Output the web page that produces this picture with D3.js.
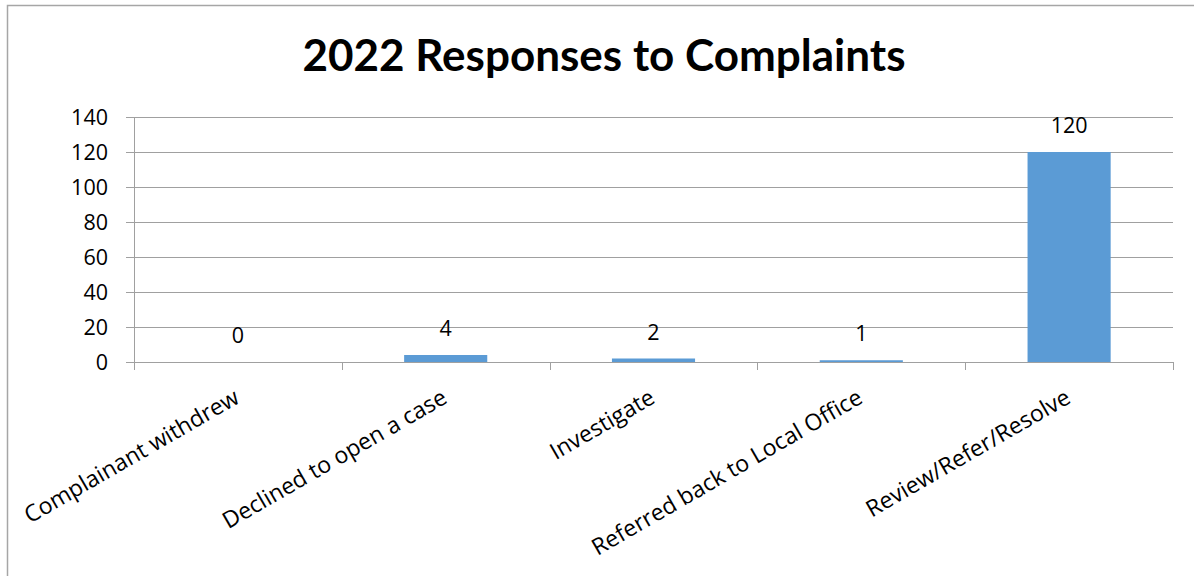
<!DOCTYPE html>
<html>
<head>
<meta charset="utf-8">
<script src="https://cdn.jsdelivr.net/npm/d3@7"></script>
<style>
  html, body { margin: 0; padding: 0; background: #fff; }
  svg { display: block; }
  text { font-family: "Open Sans", Lato, sans-serif; fill: #000; }
  .title { font-family: Lato, "Open Sans", sans-serif; }
</style>
</head>
<body>
<svg id="chart" width="1194" height="576"></svg>
<script>
// Response categories and counts for 2022
const categories = [
  "Complainant withdrew",
  "Declined to open a case",
  "Investigate",
  "Referred back to Local Office",
  "Review/Refer/Resolve"
];
const counts = [0, 4, 2, 1, 120];
const yTicks = [0, 20, 40, 60, 80, 100, 120, 140];
const chartTitle = "2022 Responses to Complaints";

const W = 1194, H = 576;
const plot = { left: 134, right: 1173, top: 117, bottom: 362 };
const svg = d3.select("#chart");

// chart frame
svg.append("path")
  .attr("d", `M7.5,${H} V5.5 H${W}`)
  .attr("fill", "none")
  .attr("stroke", "#a6a6a6")
  .attr("stroke-width", 1.5);

// title
svg.append("text")
  .attr("class", "title")
  .attr("x", 604)
  .attr("y", 71)
  .attr("text-anchor", "middle")
  .attr("font-size", 44)
  .attr("font-weight", "bold")
  .text(chartTitle);

const x = d3.scaleBand()
  .domain(categories)
  .range([plot.left, plot.right]);

const y = d3.scaleLinear()
  .domain([0, 140])
  .range([plot.bottom, plot.top]);

// horizontal gridlines with outward ticks
svg.append("g")
  .selectAll("line")
  .data(yTicks)
  .join("line")
  .attr("x1", plot.left - 8)
  .attr("x2", plot.right)
  .attr("y1", d => Math.round(y(d)) + 0.5)
  .attr("y2", d => Math.round(y(d)) + 0.5)
  .attr("stroke", "#a0a0a0")
  .attr("stroke-width", 1);

// y axis line
svg.append("line")
  .attr("x1", plot.left + 0.5).attr("x2", plot.left + 0.5)
  .attr("y1", plot.top).attr("y2", plot.bottom)
  .attr("stroke", "#a0a0a0");

// y tick labels
svg.append("g")
  .selectAll("text")
  .data(yTicks)
  .join("text")
  .attr("x", plot.left - 26)
  .attr("y", d => y(d))
  .attr("dy", "0.36em")
  .attr("text-anchor", "end")
  .attr("font-size", 21.5)
  .text(d => d);

// category boundary ticks below the axis
const boundaries = categories.map(c => x(c)).concat([x.range()[1]]);
svg.append("g")
  .selectAll("line")
  .data(boundaries)
  .join("line")
  .attr("x1", d => Math.round(d) + 0.5)
  .attr("x2", d => Math.round(d) + 0.5)
  .attr("y1", plot.bottom)
  .attr("y2", plot.bottom + 8)
  .attr("stroke", "#a0a0a0");

// bars: 40% of the category width, centred
const barW = x.bandwidth() * 0.4;
svg.append("g")
  .selectAll("rect")
  .data(counts)
  .join("rect")
  .attr("x", (d, i) => x(categories[i]) + (x.bandwidth() - barW) / 2)
  .attr("y", d => y(d))
  .attr("width", barW)
  .attr("height", d => y(0) - y(d))
  .attr("fill", "#5b9bd5");

// value labels above bars
svg.append("g")
  .selectAll("text")
  .data(counts)
  .join("text")
  .attr("x", (d, i) => x(categories[i]) + x.bandwidth() / 2)
  .attr("y", d => y(d) - 19)
  .attr("text-anchor", "middle")
  .attr("font-size", 21.5)
  .text(d => d);

// rotated category labels, each ending under its category centre
svg.append("g")
  .selectAll("text")
  .data(categories)
  .join("text")
  .attr("transform", d => {
    const cx = x(d) + x.bandwidth() / 2 + 3;
    return `translate(${cx},402) rotate(-30)`;
  })
  .attr("text-anchor", "end")
  .attr("font-size", 23)
  .text(d => d);
</script>
</body>
</html>
